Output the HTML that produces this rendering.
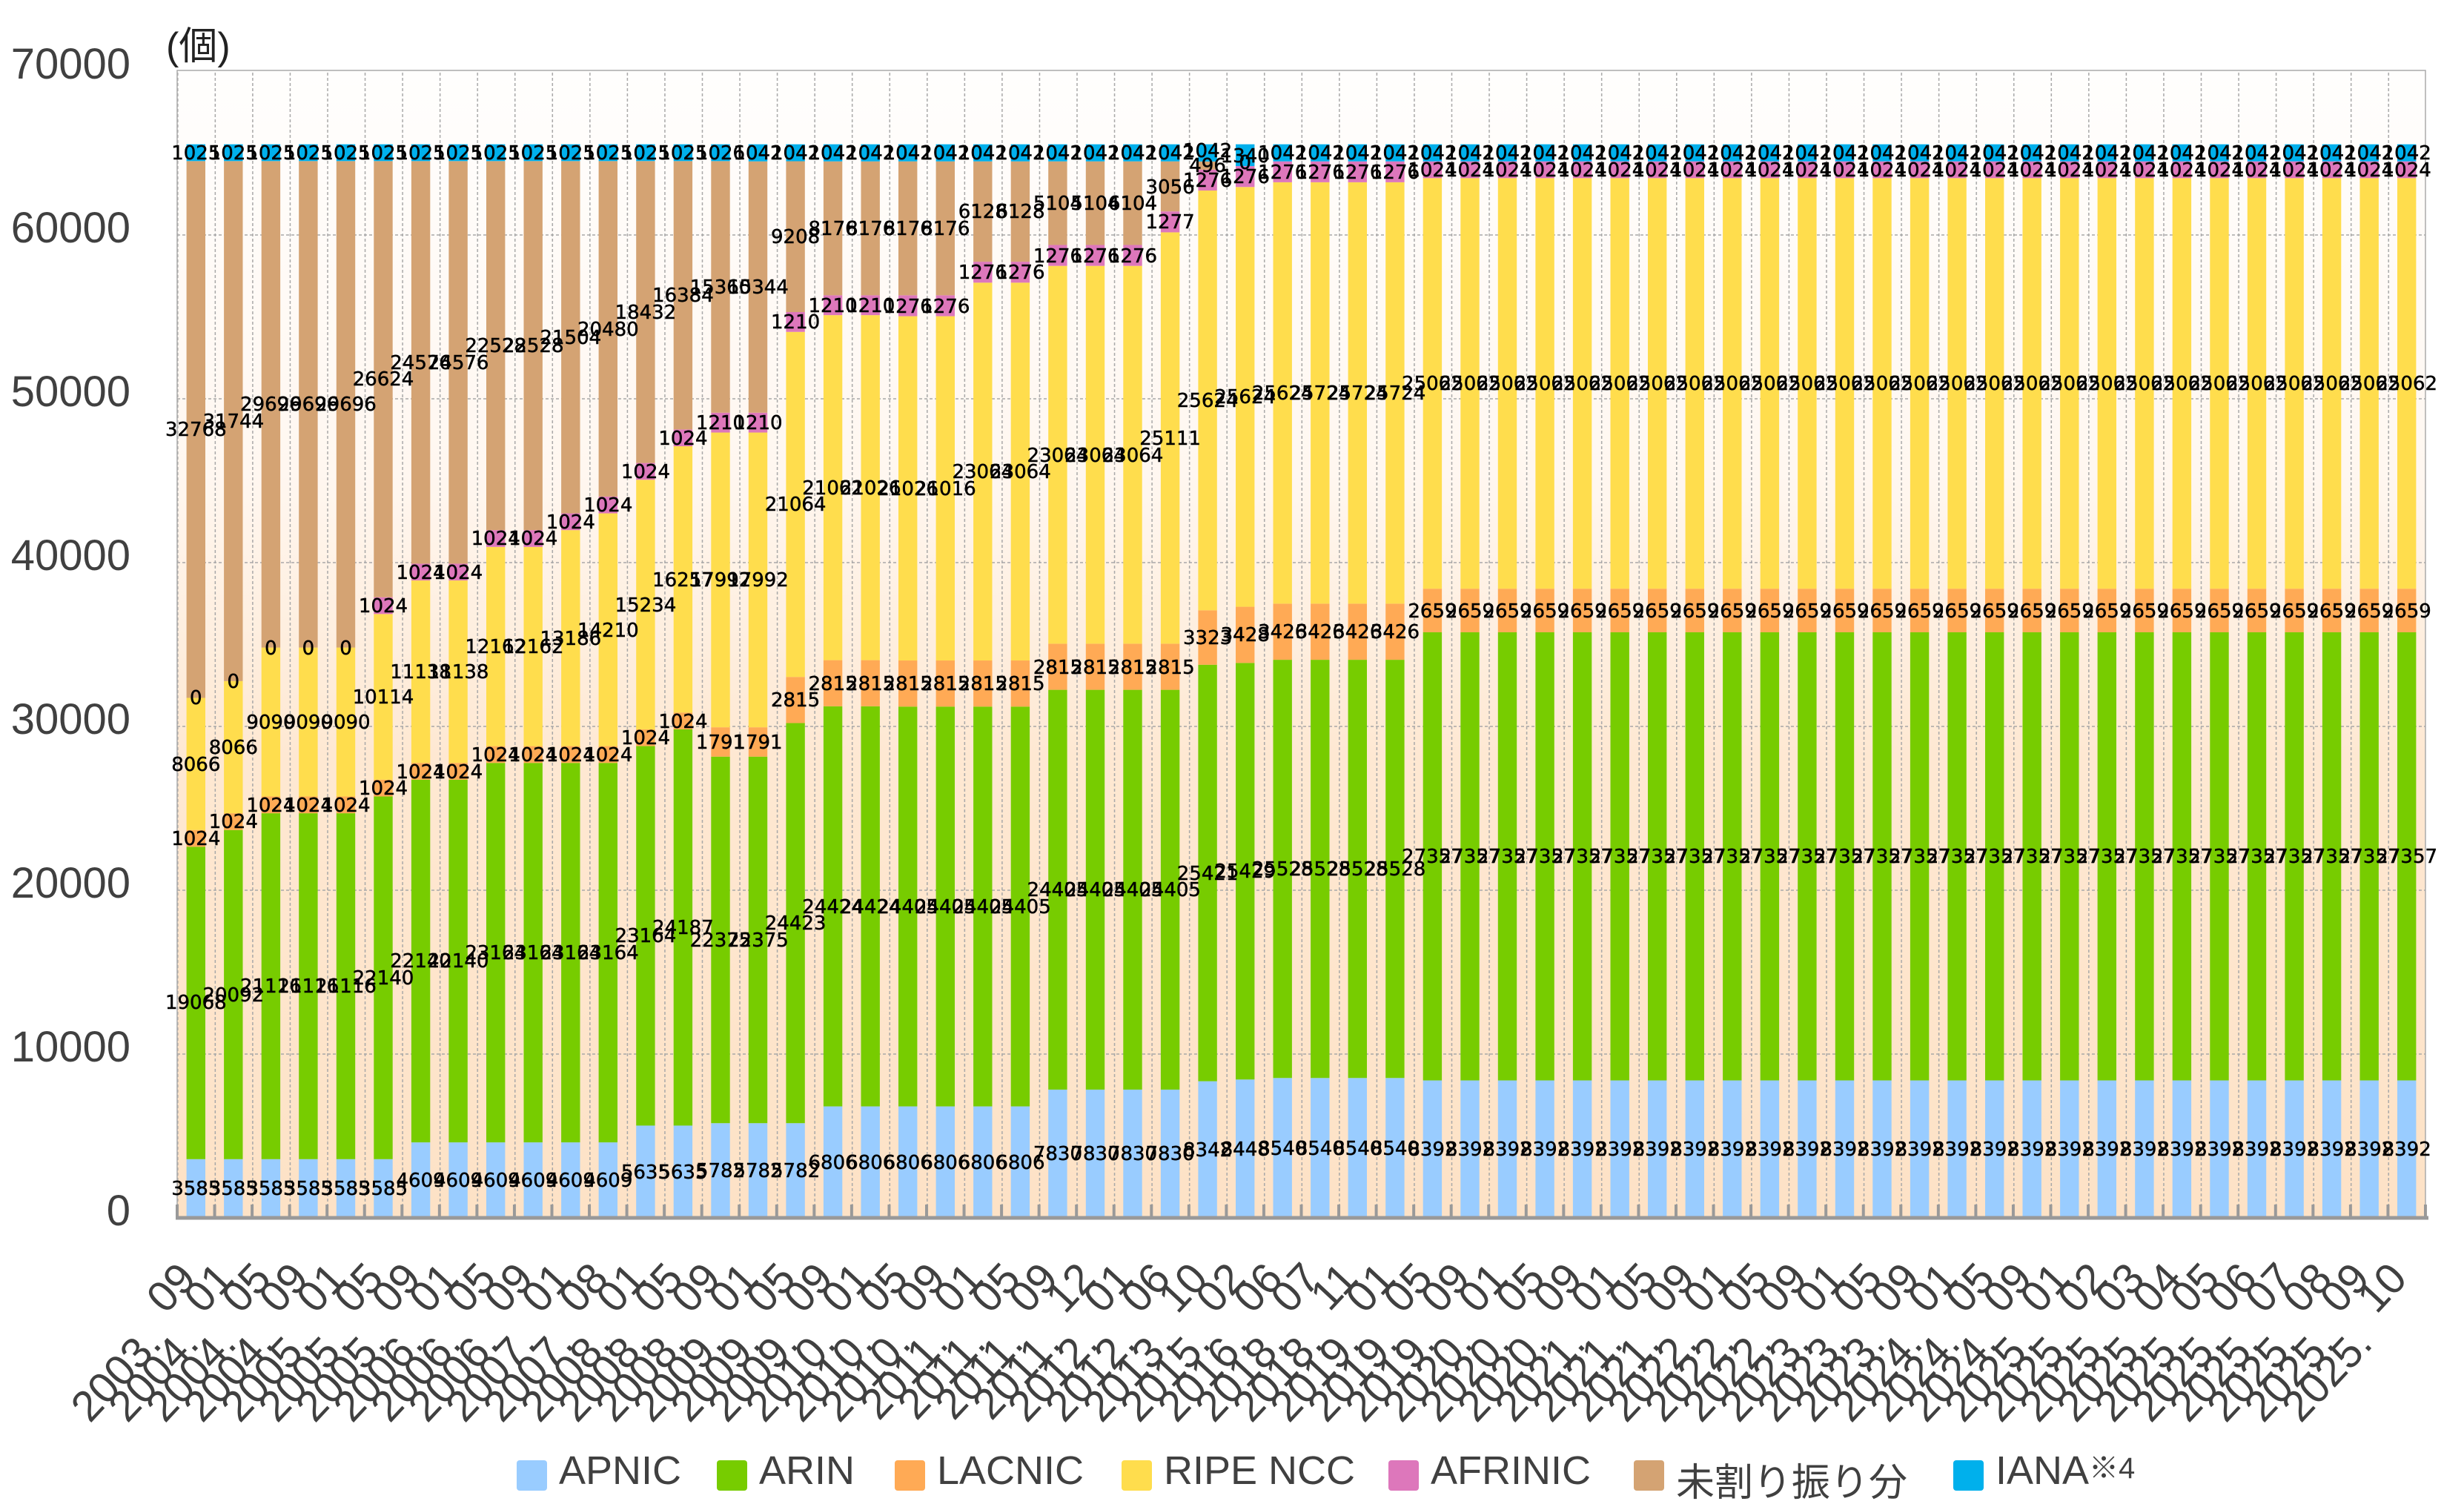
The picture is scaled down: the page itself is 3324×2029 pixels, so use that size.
<!DOCTYPE html>
<html><head><meta charset="utf-8"><style>
html,body{margin:0;padding:0;background:#fff}
svg{display:block}
.a{fill:#99ccff}.b{fill:#77cc00}.c{fill:#ffaa55}.d{fill:#ffdd4d}.e{fill:#dd77bb}.f{fill:#d4a373}.g{fill:#00b0ec}
.t{font-family:"DejaVu Sans",sans-serif;font-size:26px;text-anchor:middle;fill:#000;stroke:#000;stroke-width:0.5px}
.x{font-family:"Liberation Sans",sans-serif;font-size:58px;text-anchor:end;fill:#404040}
.y{font-family:"Liberation Sans",sans-serif;font-size:58px;text-anchor:end;fill:#404040}
.lg{font-family:"Liberation Sans","Noto Sans CJK JP",sans-serif;font-size:54px;fill:#404040}
</style></head><body>
<svg width="3324" height="2029" viewBox="0 0 3324 2029" xmlns="http://www.w3.org/2000/svg">
<defs>
<linearGradient id="bg" x1="0" y1="0" x2="0" y2="1">
<stop offset="0" stop-color="#fffefd"/><stop offset="0.35" stop-color="#fff7f0"/><stop offset="0.6" stop-color="#fee8d2"/><stop offset="1" stop-color="#fde2c6"/>
</linearGradient>
<pattern id="vg" x="239" y="0" width="50.55" height="2029" patternUnits="userSpaceOnUse">
<line x1="0.8" y1="0" x2="0.8" y2="2029" stroke="#a8a8a8" stroke-width="1.5" stroke-dasharray="4 3"/>
</pattern>
<pattern id="tk" x="237" y="0" width="50.55" height="2029" patternUnits="userSpaceOnUse">
<rect x="0" y="0" width="4" height="2029" fill="#999"/>
</pattern>
</defs>
<rect x="239" y="96" width="3033" height="1547" fill="url(#bg)"/>
<rect x="239" y="96" width="3033" height="1547" fill="url(#vg)"/>
<g stroke="#a8a8a8" stroke-width="1.5" stroke-dasharray="4 3">
<line x1="239" y1="1422" x2="3272" y2="1422"/><line x1="239" y1="1201" x2="3272" y2="1201"/><line x1="239" y1="980" x2="3272" y2="980"/><line x1="239" y1="759" x2="3272" y2="759"/><line x1="239" y1="538" x2="3272" y2="538"/><line x1="239" y1="317" x2="3272" y2="317"/>
</g>
<rect x="239" y="95" width="3033" height="1548" fill="none" stroke="#aaa" stroke-width="1.5"/>

<g transform="translate(264.3,1643) scale(1,-.0221)"><rect class="a" x="-12.7" width="25.4" y="0" height="3585"/><rect class="b" x="-12.7" width="25.4" y="3585" height="19068"/><rect class="c" x="-12.7" width="25.4" y="22653" height="1024"/><rect class="d" x="-12.7" width="25.4" y="23677" height="8066"/><rect class="f" x="-12.7" width="25.4" y="31743" height="32768"/><rect class="g" x="-12.7" width="25.4" y="64511" height="1025"/></g>
<g transform="translate(314.8,1643) scale(1,-.0221)"><rect class="a" x="-12.7" width="25.4" y="0" height="3585"/><rect class="b" x="-12.7" width="25.4" y="3585" height="20092"/><rect class="c" x="-12.7" width="25.4" y="23677" height="1024"/><rect class="d" x="-12.7" width="25.4" y="24701" height="8066"/><rect class="f" x="-12.7" width="25.4" y="32767" height="31744"/><rect class="g" x="-12.7" width="25.4" y="64511" height="1025"/></g>
<g transform="translate(365.4,1643) scale(1,-.0221)"><rect class="a" x="-12.7" width="25.4" y="0" height="3585"/><rect class="b" x="-12.7" width="25.4" y="3585" height="21116"/><rect class="c" x="-12.7" width="25.4" y="24701" height="1024"/><rect class="d" x="-12.7" width="25.4" y="25725" height="9090"/><rect class="f" x="-12.7" width="25.4" y="34815" height="29696"/><rect class="g" x="-12.7" width="25.4" y="64511" height="1025"/></g>
<g transform="translate(415.9,1643) scale(1,-.0221)"><rect class="a" x="-12.7" width="25.4" y="0" height="3585"/><rect class="b" x="-12.7" width="25.4" y="3585" height="21116"/><rect class="c" x="-12.7" width="25.4" y="24701" height="1024"/><rect class="d" x="-12.7" width="25.4" y="25725" height="9090"/><rect class="f" x="-12.7" width="25.4" y="34815" height="29696"/><rect class="g" x="-12.7" width="25.4" y="64511" height="1025"/></g>
<g transform="translate(466.5,1643) scale(1,-.0221)"><rect class="a" x="-12.7" width="25.4" y="0" height="3585"/><rect class="b" x="-12.7" width="25.4" y="3585" height="21116"/><rect class="c" x="-12.7" width="25.4" y="24701" height="1024"/><rect class="d" x="-12.7" width="25.4" y="25725" height="9090"/><rect class="f" x="-12.7" width="25.4" y="34815" height="29696"/><rect class="g" x="-12.7" width="25.4" y="64511" height="1025"/></g>
<g transform="translate(517.0,1643) scale(1,-.0221)"><rect class="a" x="-12.7" width="25.4" y="0" height="3585"/><rect class="b" x="-12.7" width="25.4" y="3585" height="22140"/><rect class="c" x="-12.7" width="25.4" y="25725" height="1024"/><rect class="d" x="-12.7" width="25.4" y="26749" height="10114"/><rect class="e" x="-12.7" width="25.4" y="36863" height="1024"/><rect class="f" x="-12.7" width="25.4" y="37887" height="26624"/><rect class="g" x="-12.7" width="25.4" y="64511" height="1025"/></g>
<g transform="translate(567.6,1643) scale(1,-.0221)"><rect class="a" x="-12.7" width="25.4" y="0" height="4609"/><rect class="b" x="-12.7" width="25.4" y="4609" height="22140"/><rect class="c" x="-12.7" width="25.4" y="26749" height="1024"/><rect class="d" x="-12.7" width="25.4" y="27773" height="11138"/><rect class="e" x="-12.7" width="25.4" y="38911" height="1024"/><rect class="f" x="-12.7" width="25.4" y="39935" height="24576"/><rect class="g" x="-12.7" width="25.4" y="64511" height="1025"/></g>
<g transform="translate(618.1,1643) scale(1,-.0221)"><rect class="a" x="-12.7" width="25.4" y="0" height="4609"/><rect class="b" x="-12.7" width="25.4" y="4609" height="22140"/><rect class="c" x="-12.7" width="25.4" y="26749" height="1024"/><rect class="d" x="-12.7" width="25.4" y="27773" height="11138"/><rect class="e" x="-12.7" width="25.4" y="38911" height="1024"/><rect class="f" x="-12.7" width="25.4" y="39935" height="24576"/><rect class="g" x="-12.7" width="25.4" y="64511" height="1025"/></g>
<g transform="translate(668.7,1643) scale(1,-.0221)"><rect class="a" x="-12.7" width="25.4" y="0" height="4609"/><rect class="b" x="-12.7" width="25.4" y="4609" height="23164"/><rect class="c" x="-12.7" width="25.4" y="27773" height="1024"/><rect class="d" x="-12.7" width="25.4" y="28797" height="12162"/><rect class="e" x="-12.7" width="25.4" y="40959" height="1024"/><rect class="f" x="-12.7" width="25.4" y="41983" height="22528"/><rect class="g" x="-12.7" width="25.4" y="64511" height="1025"/></g>
<g transform="translate(719.2,1643) scale(1,-.0221)"><rect class="a" x="-12.7" width="25.4" y="0" height="4609"/><rect class="b" x="-12.7" width="25.4" y="4609" height="23164"/><rect class="c" x="-12.7" width="25.4" y="27773" height="1024"/><rect class="d" x="-12.7" width="25.4" y="28797" height="12162"/><rect class="e" x="-12.7" width="25.4" y="40959" height="1024"/><rect class="f" x="-12.7" width="25.4" y="41983" height="22528"/><rect class="g" x="-12.7" width="25.4" y="64511" height="1025"/></g>
<g transform="translate(769.8,1643) scale(1,-.0221)"><rect class="a" x="-12.7" width="25.4" y="0" height="4609"/><rect class="b" x="-12.7" width="25.4" y="4609" height="23164"/><rect class="c" x="-12.7" width="25.4" y="27773" height="1024"/><rect class="d" x="-12.7" width="25.4" y="28797" height="13186"/><rect class="e" x="-12.7" width="25.4" y="41983" height="1024"/><rect class="f" x="-12.7" width="25.4" y="43007" height="21504"/><rect class="g" x="-12.7" width="25.4" y="64511" height="1025"/></g>
<g transform="translate(820.3,1643) scale(1,-.0221)"><rect class="a" x="-12.7" width="25.4" y="0" height="4609"/><rect class="b" x="-12.7" width="25.4" y="4609" height="23164"/><rect class="c" x="-12.7" width="25.4" y="27773" height="1024"/><rect class="d" x="-12.7" width="25.4" y="28797" height="14210"/><rect class="e" x="-12.7" width="25.4" y="43007" height="1024"/><rect class="f" x="-12.7" width="25.4" y="44031" height="20480"/><rect class="g" x="-12.7" width="25.4" y="64511" height="1025"/></g>
<g transform="translate(870.9,1643) scale(1,-.0221)"><rect class="a" x="-12.7" width="25.4" y="0" height="5635"/><rect class="b" x="-12.7" width="25.4" y="5635" height="23164"/><rect class="c" x="-12.7" width="25.4" y="28799" height="1024"/><rect class="d" x="-12.7" width="25.4" y="29823" height="15234"/><rect class="e" x="-12.7" width="25.4" y="45057" height="1024"/><rect class="f" x="-12.7" width="25.4" y="46081" height="18432"/><rect class="g" x="-12.7" width="25.4" y="64513" height="1023"/></g>
<g transform="translate(921.4,1643) scale(1,-.0221)"><rect class="a" x="-12.7" width="25.4" y="0" height="5635"/><rect class="b" x="-12.7" width="25.4" y="5635" height="24187"/><rect class="c" x="-12.7" width="25.4" y="29822" height="1024"/><rect class="d" x="-12.7" width="25.4" y="30846" height="16257"/><rect class="e" x="-12.7" width="25.4" y="47103" height="1024"/><rect class="f" x="-12.7" width="25.4" y="48127" height="16384"/><rect class="g" x="-12.7" width="25.4" y="64511" height="1025"/></g>
<g transform="translate(972.0,1643) scale(1,-.0221)"><rect class="a" x="-12.7" width="25.4" y="0" height="5782"/><rect class="b" x="-12.7" width="25.4" y="5782" height="22375"/><rect class="c" x="-12.7" width="25.4" y="28157" height="1791"/><rect class="d" x="-12.7" width="25.4" y="29948" height="17992"/><rect class="e" x="-12.7" width="25.4" y="47940" height="1210"/><rect class="f" x="-12.7" width="25.4" y="49150" height="15360"/><rect class="g" x="-12.7" width="25.4" y="64510" height="1026"/></g>
<g transform="translate(1022.5,1643) scale(1,-.0221)"><rect class="a" x="-12.7" width="25.4" y="0" height="5782"/><rect class="b" x="-12.7" width="25.4" y="5782" height="22375"/><rect class="c" x="-12.7" width="25.4" y="28157" height="1791"/><rect class="d" x="-12.7" width="25.4" y="29948" height="17992"/><rect class="e" x="-12.7" width="25.4" y="47940" height="1210"/><rect class="f" x="-12.7" width="25.4" y="49150" height="15344"/><rect class="g" x="-12.7" width="25.4" y="64494" height="1042"/></g>
<g transform="translate(1073.1,1643) scale(1,-.0221)"><rect class="a" x="-12.7" width="25.4" y="0" height="5782"/><rect class="b" x="-12.7" width="25.4" y="5782" height="24423"/><rect class="c" x="-12.7" width="25.4" y="30205" height="2815"/><rect class="d" x="-12.7" width="25.4" y="33020" height="21064"/><rect class="e" x="-12.7" width="25.4" y="54084" height="1210"/><rect class="f" x="-12.7" width="25.4" y="55294" height="9208"/><rect class="g" x="-12.7" width="25.4" y="64502" height="1034"/></g>
<g transform="translate(1123.6,1643) scale(1,-.0221)"><rect class="a" x="-12.7" width="25.4" y="0" height="6806"/><rect class="b" x="-12.7" width="25.4" y="6806" height="24424"/><rect class="c" x="-12.7" width="25.4" y="31230" height="2815"/><rect class="d" x="-12.7" width="25.4" y="34045" height="21062"/><rect class="e" x="-12.7" width="25.4" y="55107" height="1210"/><rect class="f" x="-12.7" width="25.4" y="56317" height="8176"/><rect class="g" x="-12.7" width="25.4" y="64493" height="1043"/></g>
<g transform="translate(1174.2,1643) scale(1,-.0221)"><rect class="a" x="-12.7" width="25.4" y="0" height="6806"/><rect class="b" x="-12.7" width="25.4" y="6806" height="24424"/><rect class="c" x="-12.7" width="25.4" y="31230" height="2815"/><rect class="d" x="-12.7" width="25.4" y="34045" height="21062"/><rect class="e" x="-12.7" width="25.4" y="55107" height="1210"/><rect class="f" x="-12.7" width="25.4" y="56317" height="8176"/><rect class="g" x="-12.7" width="25.4" y="64493" height="1043"/></g>
<g transform="translate(1224.7,1643) scale(1,-.0221)"><rect class="a" x="-12.7" width="25.4" y="0" height="6806"/><rect class="b" x="-12.7" width="25.4" y="6806" height="24405"/><rect class="c" x="-12.7" width="25.4" y="31211" height="2815"/><rect class="d" x="-12.7" width="25.4" y="34026" height="21016"/><rect class="e" x="-12.7" width="25.4" y="55042" height="1276"/><rect class="f" x="-12.7" width="25.4" y="56318" height="8176"/><rect class="g" x="-12.7" width="25.4" y="64494" height="1042"/></g>
<g transform="translate(1275.3,1643) scale(1,-.0221)"><rect class="a" x="-12.7" width="25.4" y="0" height="6806"/><rect class="b" x="-12.7" width="25.4" y="6806" height="24405"/><rect class="c" x="-12.7" width="25.4" y="31211" height="2815"/><rect class="d" x="-12.7" width="25.4" y="34026" height="21016"/><rect class="e" x="-12.7" width="25.4" y="55042" height="1276"/><rect class="f" x="-12.7" width="25.4" y="56318" height="8176"/><rect class="g" x="-12.7" width="25.4" y="64494" height="1042"/></g>
<g transform="translate(1325.8,1643) scale(1,-.0221)"><rect class="a" x="-12.7" width="25.4" y="0" height="6806"/><rect class="b" x="-12.7" width="25.4" y="6806" height="24405"/><rect class="c" x="-12.7" width="25.4" y="31211" height="2815"/><rect class="d" x="-12.7" width="25.4" y="34026" height="23064"/><rect class="e" x="-12.7" width="25.4" y="57090" height="1276"/><rect class="f" x="-12.7" width="25.4" y="58366" height="6128"/><rect class="g" x="-12.7" width="25.4" y="64494" height="1042"/></g>
<g transform="translate(1376.4,1643) scale(1,-.0221)"><rect class="a" x="-12.7" width="25.4" y="0" height="6806"/><rect class="b" x="-12.7" width="25.4" y="6806" height="24405"/><rect class="c" x="-12.7" width="25.4" y="31211" height="2815"/><rect class="d" x="-12.7" width="25.4" y="34026" height="23064"/><rect class="e" x="-12.7" width="25.4" y="57090" height="1276"/><rect class="f" x="-12.7" width="25.4" y="58366" height="6128"/><rect class="g" x="-12.7" width="25.4" y="64494" height="1042"/></g>
<g transform="translate(1426.9,1643) scale(1,-.0221)"><rect class="a" x="-12.7" width="25.4" y="0" height="7830"/><rect class="b" x="-12.7" width="25.4" y="7830" height="24405"/><rect class="c" x="-12.7" width="25.4" y="32235" height="2815"/><rect class="d" x="-12.7" width="25.4" y="35050" height="23064"/><rect class="e" x="-12.7" width="25.4" y="58114" height="1276"/><rect class="f" x="-12.7" width="25.4" y="59390" height="5104"/><rect class="g" x="-12.7" width="25.4" y="64494" height="1042"/></g>
<g transform="translate(1477.5,1643) scale(1,-.0221)"><rect class="a" x="-12.7" width="25.4" y="0" height="7830"/><rect class="b" x="-12.7" width="25.4" y="7830" height="24405"/><rect class="c" x="-12.7" width="25.4" y="32235" height="2815"/><rect class="d" x="-12.7" width="25.4" y="35050" height="23064"/><rect class="e" x="-12.7" width="25.4" y="58114" height="1276"/><rect class="f" x="-12.7" width="25.4" y="59390" height="5104"/><rect class="g" x="-12.7" width="25.4" y="64494" height="1042"/></g>
<g transform="translate(1528.0,1643) scale(1,-.0221)"><rect class="a" x="-12.7" width="25.4" y="0" height="7830"/><rect class="b" x="-12.7" width="25.4" y="7830" height="24405"/><rect class="c" x="-12.7" width="25.4" y="32235" height="2815"/><rect class="d" x="-12.7" width="25.4" y="35050" height="23064"/><rect class="e" x="-12.7" width="25.4" y="58114" height="1276"/><rect class="f" x="-12.7" width="25.4" y="59390" height="5104"/><rect class="g" x="-12.7" width="25.4" y="64494" height="1042"/></g>
<g transform="translate(1578.6,1643) scale(1,-.0221)"><rect class="a" x="-12.7" width="25.4" y="0" height="7830"/><rect class="b" x="-12.7" width="25.4" y="7830" height="24405"/><rect class="c" x="-12.7" width="25.4" y="32235" height="2815"/><rect class="d" x="-12.7" width="25.4" y="35050" height="25111"/><rect class="e" x="-12.7" width="25.4" y="60161" height="1277"/><rect class="f" x="-12.7" width="25.4" y="61438" height="3056"/><rect class="g" x="-12.7" width="25.4" y="64494" height="1042"/></g>
<g transform="translate(1629.1,1643) scale(1,-.0221)"><rect class="a" x="-12.7" width="25.4" y="0" height="8342"/><rect class="b" x="-12.7" width="25.4" y="8342" height="25424"/><rect class="c" x="-12.7" width="25.4" y="33766" height="3323"/><rect class="d" x="-12.7" width="25.4" y="37089" height="25624"/><rect class="e" x="-12.7" width="25.4" y="62713" height="1276"/><rect class="f" x="-12.7" width="25.4" y="63989" height="496"/><rect class="g" x="-12.7" width="25.4" y="64485" height="1051"/></g>
<g transform="translate(1679.7,1643) scale(1,-.0221)"><rect class="a" x="-12.7" width="25.4" y="0" height="8448"/><rect class="b" x="-12.7" width="25.4" y="8448" height="25429"/><rect class="c" x="-12.7" width="25.4" y="33877" height="3428"/><rect class="d" x="-12.7" width="25.4" y="37305" height="25624"/><rect class="e" x="-12.7" width="25.4" y="62929" height="1276"/><rect class="g" x="-12.7" width="25.4" y="64205" height="1331"/></g>
<g transform="translate(1730.2,1643) scale(1,-.0221)"><rect class="a" x="-12.7" width="25.4" y="0" height="8540"/><rect class="b" x="-12.7" width="25.4" y="8540" height="25528"/><rect class="c" x="-12.7" width="25.4" y="34068" height="3426"/><rect class="d" x="-12.7" width="25.4" y="37494" height="25724"/><rect class="e" x="-12.7" width="25.4" y="63218" height="1276"/><rect class="g" x="-12.7" width="25.4" y="64494" height="1042"/></g>
<g transform="translate(1780.8,1643) scale(1,-.0221)"><rect class="a" x="-12.7" width="25.4" y="0" height="8540"/><rect class="b" x="-12.7" width="25.4" y="8540" height="25528"/><rect class="c" x="-12.7" width="25.4" y="34068" height="3426"/><rect class="d" x="-12.7" width="25.4" y="37494" height="25724"/><rect class="e" x="-12.7" width="25.4" y="63218" height="1276"/><rect class="g" x="-12.7" width="25.4" y="64494" height="1042"/></g>
<g transform="translate(1831.3,1643) scale(1,-.0221)"><rect class="a" x="-12.7" width="25.4" y="0" height="8540"/><rect class="b" x="-12.7" width="25.4" y="8540" height="25528"/><rect class="c" x="-12.7" width="25.4" y="34068" height="3426"/><rect class="d" x="-12.7" width="25.4" y="37494" height="25724"/><rect class="e" x="-12.7" width="25.4" y="63218" height="1276"/><rect class="g" x="-12.7" width="25.4" y="64494" height="1042"/></g>
<g transform="translate(1881.9,1643) scale(1,-.0221)"><rect class="a" x="-12.7" width="25.4" y="0" height="8540"/><rect class="b" x="-12.7" width="25.4" y="8540" height="25528"/><rect class="c" x="-12.7" width="25.4" y="34068" height="3426"/><rect class="d" x="-12.7" width="25.4" y="37494" height="25724"/><rect class="e" x="-12.7" width="25.4" y="63218" height="1276"/><rect class="g" x="-12.7" width="25.4" y="64494" height="1042"/></g>
<g transform="translate(1932.4,1643) scale(1,-.0221)"><rect class="a" x="-12.7" width="25.4" y="0" height="8392"/><rect class="b" x="-12.7" width="25.4" y="8392" height="27357"/><rect class="c" x="-12.7" width="25.4" y="35749" height="2659"/><rect class="d" x="-12.7" width="25.4" y="38408" height="25062"/><rect class="e" x="-12.7" width="25.4" y="63470" height="1024"/><rect class="g" x="-12.7" width="25.4" y="64494" height="1042"/></g>
<g transform="translate(1983.0,1643) scale(1,-.0221)"><rect class="a" x="-12.7" width="25.4" y="0" height="8392"/><rect class="b" x="-12.7" width="25.4" y="8392" height="27357"/><rect class="c" x="-12.7" width="25.4" y="35749" height="2659"/><rect class="d" x="-12.7" width="25.4" y="38408" height="25062"/><rect class="e" x="-12.7" width="25.4" y="63470" height="1024"/><rect class="g" x="-12.7" width="25.4" y="64494" height="1042"/></g>
<g transform="translate(2033.5,1643) scale(1,-.0221)"><rect class="a" x="-12.7" width="25.4" y="0" height="8392"/><rect class="b" x="-12.7" width="25.4" y="8392" height="27357"/><rect class="c" x="-12.7" width="25.4" y="35749" height="2659"/><rect class="d" x="-12.7" width="25.4" y="38408" height="25062"/><rect class="e" x="-12.7" width="25.4" y="63470" height="1024"/><rect class="g" x="-12.7" width="25.4" y="64494" height="1042"/></g>
<g transform="translate(2084.1,1643) scale(1,-.0221)"><rect class="a" x="-12.7" width="25.4" y="0" height="8392"/><rect class="b" x="-12.7" width="25.4" y="8392" height="27357"/><rect class="c" x="-12.7" width="25.4" y="35749" height="2659"/><rect class="d" x="-12.7" width="25.4" y="38408" height="25062"/><rect class="e" x="-12.7" width="25.4" y="63470" height="1024"/><rect class="g" x="-12.7" width="25.4" y="64494" height="1042"/></g>
<g transform="translate(2134.6,1643) scale(1,-.0221)"><rect class="a" x="-12.7" width="25.4" y="0" height="8392"/><rect class="b" x="-12.7" width="25.4" y="8392" height="27357"/><rect class="c" x="-12.7" width="25.4" y="35749" height="2659"/><rect class="d" x="-12.7" width="25.4" y="38408" height="25062"/><rect class="e" x="-12.7" width="25.4" y="63470" height="1024"/><rect class="g" x="-12.7" width="25.4" y="64494" height="1042"/></g>
<g transform="translate(2185.2,1643) scale(1,-.0221)"><rect class="a" x="-12.7" width="25.4" y="0" height="8392"/><rect class="b" x="-12.7" width="25.4" y="8392" height="27357"/><rect class="c" x="-12.7" width="25.4" y="35749" height="2659"/><rect class="d" x="-12.7" width="25.4" y="38408" height="25062"/><rect class="e" x="-12.7" width="25.4" y="63470" height="1024"/><rect class="g" x="-12.7" width="25.4" y="64494" height="1042"/></g>
<g transform="translate(2235.7,1643) scale(1,-.0221)"><rect class="a" x="-12.7" width="25.4" y="0" height="8392"/><rect class="b" x="-12.7" width="25.4" y="8392" height="27357"/><rect class="c" x="-12.7" width="25.4" y="35749" height="2659"/><rect class="d" x="-12.7" width="25.4" y="38408" height="25062"/><rect class="e" x="-12.7" width="25.4" y="63470" height="1024"/><rect class="g" x="-12.7" width="25.4" y="64494" height="1042"/></g>
<g transform="translate(2286.3,1643) scale(1,-.0221)"><rect class="a" x="-12.7" width="25.4" y="0" height="8392"/><rect class="b" x="-12.7" width="25.4" y="8392" height="27357"/><rect class="c" x="-12.7" width="25.4" y="35749" height="2659"/><rect class="d" x="-12.7" width="25.4" y="38408" height="25062"/><rect class="e" x="-12.7" width="25.4" y="63470" height="1024"/><rect class="g" x="-12.7" width="25.4" y="64494" height="1042"/></g>
<g transform="translate(2336.8,1643) scale(1,-.0221)"><rect class="a" x="-12.7" width="25.4" y="0" height="8392"/><rect class="b" x="-12.7" width="25.4" y="8392" height="27357"/><rect class="c" x="-12.7" width="25.4" y="35749" height="2659"/><rect class="d" x="-12.7" width="25.4" y="38408" height="25062"/><rect class="e" x="-12.7" width="25.4" y="63470" height="1024"/><rect class="g" x="-12.7" width="25.4" y="64494" height="1042"/></g>
<g transform="translate(2387.4,1643) scale(1,-.0221)"><rect class="a" x="-12.7" width="25.4" y="0" height="8392"/><rect class="b" x="-12.7" width="25.4" y="8392" height="27357"/><rect class="c" x="-12.7" width="25.4" y="35749" height="2659"/><rect class="d" x="-12.7" width="25.4" y="38408" height="25062"/><rect class="e" x="-12.7" width="25.4" y="63470" height="1024"/><rect class="g" x="-12.7" width="25.4" y="64494" height="1042"/></g>
<g transform="translate(2437.9,1643) scale(1,-.0221)"><rect class="a" x="-12.7" width="25.4" y="0" height="8392"/><rect class="b" x="-12.7" width="25.4" y="8392" height="27357"/><rect class="c" x="-12.7" width="25.4" y="35749" height="2659"/><rect class="d" x="-12.7" width="25.4" y="38408" height="25062"/><rect class="e" x="-12.7" width="25.4" y="63470" height="1024"/><rect class="g" x="-12.7" width="25.4" y="64494" height="1042"/></g>
<g transform="translate(2488.5,1643) scale(1,-.0221)"><rect class="a" x="-12.7" width="25.4" y="0" height="8392"/><rect class="b" x="-12.7" width="25.4" y="8392" height="27357"/><rect class="c" x="-12.7" width="25.4" y="35749" height="2659"/><rect class="d" x="-12.7" width="25.4" y="38408" height="25062"/><rect class="e" x="-12.7" width="25.4" y="63470" height="1024"/><rect class="g" x="-12.7" width="25.4" y="64494" height="1042"/></g>
<g transform="translate(2539.0,1643) scale(1,-.0221)"><rect class="a" x="-12.7" width="25.4" y="0" height="8392"/><rect class="b" x="-12.7" width="25.4" y="8392" height="27357"/><rect class="c" x="-12.7" width="25.4" y="35749" height="2659"/><rect class="d" x="-12.7" width="25.4" y="38408" height="25062"/><rect class="e" x="-12.7" width="25.4" y="63470" height="1024"/><rect class="g" x="-12.7" width="25.4" y="64494" height="1042"/></g>
<g transform="translate(2589.6,1643) scale(1,-.0221)"><rect class="a" x="-12.7" width="25.4" y="0" height="8392"/><rect class="b" x="-12.7" width="25.4" y="8392" height="27357"/><rect class="c" x="-12.7" width="25.4" y="35749" height="2659"/><rect class="d" x="-12.7" width="25.4" y="38408" height="25062"/><rect class="e" x="-12.7" width="25.4" y="63470" height="1024"/><rect class="g" x="-12.7" width="25.4" y="64494" height="1042"/></g>
<g transform="translate(2640.1,1643) scale(1,-.0221)"><rect class="a" x="-12.7" width="25.4" y="0" height="8392"/><rect class="b" x="-12.7" width="25.4" y="8392" height="27357"/><rect class="c" x="-12.7" width="25.4" y="35749" height="2659"/><rect class="d" x="-12.7" width="25.4" y="38408" height="25062"/><rect class="e" x="-12.7" width="25.4" y="63470" height="1024"/><rect class="g" x="-12.7" width="25.4" y="64494" height="1042"/></g>
<g transform="translate(2690.7,1643) scale(1,-.0221)"><rect class="a" x="-12.7" width="25.4" y="0" height="8392"/><rect class="b" x="-12.7" width="25.4" y="8392" height="27357"/><rect class="c" x="-12.7" width="25.4" y="35749" height="2659"/><rect class="d" x="-12.7" width="25.4" y="38408" height="25062"/><rect class="e" x="-12.7" width="25.4" y="63470" height="1024"/><rect class="g" x="-12.7" width="25.4" y="64494" height="1042"/></g>
<g transform="translate(2741.2,1643) scale(1,-.0221)"><rect class="a" x="-12.7" width="25.4" y="0" height="8392"/><rect class="b" x="-12.7" width="25.4" y="8392" height="27357"/><rect class="c" x="-12.7" width="25.4" y="35749" height="2659"/><rect class="d" x="-12.7" width="25.4" y="38408" height="25062"/><rect class="e" x="-12.7" width="25.4" y="63470" height="1024"/><rect class="g" x="-12.7" width="25.4" y="64494" height="1042"/></g>
<g transform="translate(2791.8,1643) scale(1,-.0221)"><rect class="a" x="-12.7" width="25.4" y="0" height="8392"/><rect class="b" x="-12.7" width="25.4" y="8392" height="27357"/><rect class="c" x="-12.7" width="25.4" y="35749" height="2659"/><rect class="d" x="-12.7" width="25.4" y="38408" height="25062"/><rect class="e" x="-12.7" width="25.4" y="63470" height="1024"/><rect class="g" x="-12.7" width="25.4" y="64494" height="1042"/></g>
<g transform="translate(2842.3,1643) scale(1,-.0221)"><rect class="a" x="-12.7" width="25.4" y="0" height="8392"/><rect class="b" x="-12.7" width="25.4" y="8392" height="27357"/><rect class="c" x="-12.7" width="25.4" y="35749" height="2659"/><rect class="d" x="-12.7" width="25.4" y="38408" height="25062"/><rect class="e" x="-12.7" width="25.4" y="63470" height="1024"/><rect class="g" x="-12.7" width="25.4" y="64494" height="1042"/></g>
<g transform="translate(2892.9,1643) scale(1,-.0221)"><rect class="a" x="-12.7" width="25.4" y="0" height="8392"/><rect class="b" x="-12.7" width="25.4" y="8392" height="27357"/><rect class="c" x="-12.7" width="25.4" y="35749" height="2659"/><rect class="d" x="-12.7" width="25.4" y="38408" height="25062"/><rect class="e" x="-12.7" width="25.4" y="63470" height="1024"/><rect class="g" x="-12.7" width="25.4" y="64494" height="1042"/></g>
<g transform="translate(2943.4,1643) scale(1,-.0221)"><rect class="a" x="-12.7" width="25.4" y="0" height="8392"/><rect class="b" x="-12.7" width="25.4" y="8392" height="27357"/><rect class="c" x="-12.7" width="25.4" y="35749" height="2659"/><rect class="d" x="-12.7" width="25.4" y="38408" height="25062"/><rect class="e" x="-12.7" width="25.4" y="63470" height="1024"/><rect class="g" x="-12.7" width="25.4" y="64494" height="1042"/></g>
<g transform="translate(2994.0,1643) scale(1,-.0221)"><rect class="a" x="-12.7" width="25.4" y="0" height="8392"/><rect class="b" x="-12.7" width="25.4" y="8392" height="27357"/><rect class="c" x="-12.7" width="25.4" y="35749" height="2659"/><rect class="d" x="-12.7" width="25.4" y="38408" height="25062"/><rect class="e" x="-12.7" width="25.4" y="63470" height="1024"/><rect class="g" x="-12.7" width="25.4" y="64494" height="1042"/></g>
<g transform="translate(3044.5,1643) scale(1,-.0221)"><rect class="a" x="-12.7" width="25.4" y="0" height="8392"/><rect class="b" x="-12.7" width="25.4" y="8392" height="27357"/><rect class="c" x="-12.7" width="25.4" y="35749" height="2659"/><rect class="d" x="-12.7" width="25.4" y="38408" height="25062"/><rect class="e" x="-12.7" width="25.4" y="63470" height="1024"/><rect class="g" x="-12.7" width="25.4" y="64494" height="1042"/></g>
<g transform="translate(3095.1,1643) scale(1,-.0221)"><rect class="a" x="-12.7" width="25.4" y="0" height="8392"/><rect class="b" x="-12.7" width="25.4" y="8392" height="27357"/><rect class="c" x="-12.7" width="25.4" y="35749" height="2659"/><rect class="d" x="-12.7" width="25.4" y="38408" height="25062"/><rect class="e" x="-12.7" width="25.4" y="63470" height="1024"/><rect class="g" x="-12.7" width="25.4" y="64494" height="1042"/></g>
<g transform="translate(3145.6,1643) scale(1,-.0221)"><rect class="a" x="-12.7" width="25.4" y="0" height="8392"/><rect class="b" x="-12.7" width="25.4" y="8392" height="27357"/><rect class="c" x="-12.7" width="25.4" y="35749" height="2659"/><rect class="d" x="-12.7" width="25.4" y="38408" height="25062"/><rect class="e" x="-12.7" width="25.4" y="63470" height="1024"/><rect class="g" x="-12.7" width="25.4" y="64494" height="1042"/></g>
<g transform="translate(3196.2,1643) scale(1,-.0221)"><rect class="a" x="-12.7" width="25.4" y="0" height="8392"/><rect class="b" x="-12.7" width="25.4" y="8392" height="27357"/><rect class="c" x="-12.7" width="25.4" y="35749" height="2659"/><rect class="d" x="-12.7" width="25.4" y="38408" height="25062"/><rect class="e" x="-12.7" width="25.4" y="63470" height="1024"/><rect class="g" x="-12.7" width="25.4" y="64494" height="1042"/></g>
<g transform="translate(3246.7,1643) scale(1,-.0221)"><rect class="a" x="-12.7" width="25.4" y="0" height="8392"/><rect class="b" x="-12.7" width="25.4" y="8392" height="27357"/><rect class="c" x="-12.7" width="25.4" y="35749" height="2659"/><rect class="d" x="-12.7" width="25.4" y="38408" height="25062"/><rect class="e" x="-12.7" width="25.4" y="63470" height="1024"/><rect class="g" x="-12.7" width="25.4" y="64494" height="1042"/></g>

<rect x="237" y="1625" width="3039" height="18" fill="url(#tk)"/>
<line x1="237" y1="1643" x2="3276" y2="1643" stroke="#999" stroke-width="5"/>

<g class="t">
<text x="264.3" y="1612">3585</text><text x="264.3" y="1361">19068</text><text x="264.3" y="1140">1024</text><text x="264.3" y="1040">8066</text><text x="264.3" y="950">0</text><text x="264.3" y="588">32768</text><text x="264.3" y="215">1025</text>
<text x="314.8" y="1612">3585</text><text x="314.8" y="1351">20092</text><text x="314.8" y="1117">1024</text><text x="314.8" y="1017">8066</text><text x="314.8" y="928">0</text><text x="314.8" y="577">31744</text><text x="314.8" y="215">1025</text>
<text x="365.4" y="1612">3585</text><text x="365.4" y="1339">21116</text><text x="365.4" y="1095">1024</text><text x="365.4" y="983">9090</text><text x="365.4" y="883">0</text><text x="365.4" y="554">29696</text><text x="365.4" y="215">1025</text>
<text x="415.9" y="1612">3585</text><text x="415.9" y="1339">21116</text><text x="415.9" y="1095">1024</text><text x="415.9" y="983">9090</text><text x="415.9" y="883">0</text><text x="415.9" y="554">29696</text><text x="415.9" y="215">1025</text>
<text x="466.5" y="1612">3585</text><text x="466.5" y="1339">21116</text><text x="466.5" y="1095">1024</text><text x="466.5" y="983">9090</text><text x="466.5" y="883">0</text><text x="466.5" y="554">29696</text><text x="466.5" y="215">1025</text>
<text x="517.0" y="1612">3585</text><text x="517.0" y="1328">22140</text><text x="517.0" y="1072">1024</text><text x="517.0" y="949">10114</text><text x="517.0" y="826">1024</text><text x="517.0" y="520">26624</text><text x="517.0" y="215">1025</text>
<text x="567.6" y="1601">4609</text><text x="567.6" y="1305">22140</text><text x="567.6" y="1050">1024</text><text x="567.6" y="915">11138</text><text x="567.6" y="781">1024</text><text x="567.6" y="498">24576</text><text x="567.6" y="215">1025</text>
<text x="618.1" y="1601">4609</text><text x="618.1" y="1305">22140</text><text x="618.1" y="1050">1024</text><text x="618.1" y="915">11138</text><text x="618.1" y="781">1024</text><text x="618.1" y="498">24576</text><text x="618.1" y="215">1025</text>
<text x="668.7" y="1601">4609</text><text x="668.7" y="1294">23164</text><text x="668.7" y="1027">1024</text><text x="668.7" y="881">12162</text><text x="668.7" y="735">1024</text><text x="668.7" y="475">22528</text><text x="668.7" y="215">1025</text>
<text x="719.2" y="1601">4609</text><text x="719.2" y="1294">23164</text><text x="719.2" y="1027">1024</text><text x="719.2" y="881">12162</text><text x="719.2" y="735">1024</text><text x="719.2" y="475">22528</text><text x="719.2" y="215">1025</text>
<text x="769.8" y="1601">4609</text><text x="769.8" y="1294">23164</text><text x="769.8" y="1027">1024</text><text x="769.8" y="870">13186</text><text x="769.8" y="713">1024</text><text x="769.8" y="464">21504</text><text x="769.8" y="215">1025</text>
<text x="820.3" y="1601">4609</text><text x="820.3" y="1294">23164</text><text x="820.3" y="1027">1024</text><text x="820.3" y="859">14210</text><text x="820.3" y="690">1024</text><text x="820.3" y="453">20480</text><text x="820.3" y="215">1025</text>
<text x="870.9" y="1590">5635</text><text x="870.9" y="1271">23164</text><text x="870.9" y="1004">1024</text><text x="870.9" y="825">15234</text><text x="870.9" y="645">1024</text><text x="870.9" y="430">18432</text><text x="870.9" y="215">1025</text>
<text x="921.4" y="1590">5635</text><text x="921.4" y="1260">24187</text><text x="921.4" y="982">1024</text><text x="921.4" y="791">16257</text><text x="921.4" y="600">1024</text><text x="921.4" y="407">16384</text><text x="921.4" y="215">1025</text>
<text x="972.0" y="1588">5782</text><text x="972.0" y="1277">22375</text><text x="972.0" y="1010">1791</text><text x="972.0" y="791">17992</text><text x="972.0" y="579">1210</text><text x="972.0" y="396">15360</text><text x="972.0" y="215">1026</text>
<text x="1022.5" y="1588">5782</text><text x="1022.5" y="1277">22375</text><text x="1022.5" y="1010">1791</text><text x="1022.5" y="791">17992</text><text x="1022.5" y="579">1210</text><text x="1022.5" y="396">15344</text><text x="1022.5" y="215">1042</text>
<text x="1073.1" y="1588">5782</text><text x="1073.1" y="1254">24423</text><text x="1073.1" y="953">2815</text><text x="1073.1" y="689">21064</text><text x="1073.1" y="443">1210</text><text x="1073.1" y="328">9208</text><text x="1073.1" y="215">1042</text>
<text x="1123.6" y="1577">6806</text><text x="1123.6" y="1232">24424</text><text x="1123.6" y="931">2815</text><text x="1123.6" y="667">21062</text><text x="1123.6" y="421">1210</text><text x="1123.6" y="317">8176</text><text x="1123.6" y="215">1042</text>
<text x="1174.2" y="1577">6806</text><text x="1174.2" y="1232">24424</text><text x="1174.2" y="931">2815</text><text x="1174.2" y="667">21026</text><text x="1174.2" y="421">1210</text><text x="1174.2" y="317">8176</text><text x="1174.2" y="215">1042</text>
<text x="1224.7" y="1577">6806</text><text x="1224.7" y="1232">24405</text><text x="1224.7" y="931">2815</text><text x="1224.7" y="668">21026</text><text x="1224.7" y="422">1276</text><text x="1224.7" y="317">8176</text><text x="1224.7" y="215">1042</text>
<text x="1275.3" y="1577">6806</text><text x="1275.3" y="1232">24405</text><text x="1275.3" y="931">2815</text><text x="1275.3" y="668">21016</text><text x="1275.3" y="422">1276</text><text x="1275.3" y="317">8176</text><text x="1275.3" y="215">1042</text>
<text x="1325.8" y="1577">6806</text><text x="1325.8" y="1232">24405</text><text x="1325.8" y="931">2815</text><text x="1325.8" y="645">23064</text><text x="1325.8" y="376">1276</text><text x="1325.8" y="294">6128</text><text x="1325.8" y="215">1042</text>
<text x="1376.4" y="1577">6806</text><text x="1376.4" y="1232">24405</text><text x="1376.4" y="931">2815</text><text x="1376.4" y="645">23064</text><text x="1376.4" y="376">1276</text><text x="1376.4" y="294">6128</text><text x="1376.4" y="215">1042</text>
<text x="1426.9" y="1565">7830</text><text x="1426.9" y="1209">24405</text><text x="1426.9" y="909">2815</text><text x="1426.9" y="623">23064</text><text x="1426.9" y="354">1276</text><text x="1426.9" y="283">5104</text><text x="1426.9" y="215">1042</text>
<text x="1477.5" y="1565">7830</text><text x="1477.5" y="1209">24405</text><text x="1477.5" y="909">2815</text><text x="1477.5" y="623">23064</text><text x="1477.5" y="354">1276</text><text x="1477.5" y="283">5104</text><text x="1477.5" y="215">1042</text>
<text x="1528.0" y="1565">7830</text><text x="1528.0" y="1209">24405</text><text x="1528.0" y="909">2815</text><text x="1528.0" y="623">23064</text><text x="1528.0" y="354">1276</text><text x="1528.0" y="283">6104</text><text x="1528.0" y="215">1042</text>
<text x="1578.6" y="1565">7830</text><text x="1578.6" y="1209">24405</text><text x="1578.6" y="909">2815</text><text x="1578.6" y="600">25111</text><text x="1578.6" y="308">1277</text><text x="1578.6" y="261">3056</text><text x="1578.6" y="215">1042</text>
<text x="1629.1" y="1560">8342</text><text x="1629.1" y="1187">25421</text><text x="1629.1" y="869">3323</text><text x="1629.1" y="549">25624</text><text x="1629.1" y="252">1276</text><text x="1629.1" y="232">496</text><text x="1629.1" y="212">1042</text>
<text x="1679.7" y="1559">8448</text><text x="1679.7" y="1184">25429</text><text x="1679.7" y="865">3428</text><text x="1679.7" y="544">25624</text><text x="1679.7" y="247">1276</text><text x="1679.7" y="228">0</text><text x="1679.7" y="219">1340</text>
<text x="1730.2" y="1558">8540</text><text x="1730.2" y="1181">25528</text><text x="1730.2" y="861">3426</text><text x="1730.2" y="539">25624</text><text x="1730.2" y="241">1276</text><text x="1730.2" y="215">1042</text>
<text x="1780.8" y="1558">8540</text><text x="1780.8" y="1181">25528</text><text x="1780.8" y="861">3426</text><text x="1780.8" y="539">25724</text><text x="1780.8" y="241">1276</text><text x="1780.8" y="215">1042</text>
<text x="1831.3" y="1558">8540</text><text x="1831.3" y="1181">25528</text><text x="1831.3" y="861">3426</text><text x="1831.3" y="539">25724</text><text x="1831.3" y="241">1276</text><text x="1831.3" y="215">1042</text>
<text x="1881.9" y="1558">8540</text><text x="1881.9" y="1181">25528</text><text x="1881.9" y="861">3426</text><text x="1881.9" y="539">25724</text><text x="1881.9" y="241">1276</text><text x="1881.9" y="215">1042</text>
<text x="1932.4" y="1559">8392</text><text x="1932.4" y="1164">27357</text><text x="1932.4" y="833">2659</text><text x="1932.4" y="526">25062</text><text x="1932.4" y="238">1024</text><text x="1932.4" y="215">1042</text>
<text x="1983.0" y="1559">8392</text><text x="1983.0" y="1164">27357</text><text x="1983.0" y="833">2659</text><text x="1983.0" y="526">25062</text><text x="1983.0" y="238">1024</text><text x="1983.0" y="215">1042</text>
<text x="2033.5" y="1559">8392</text><text x="2033.5" y="1164">27357</text><text x="2033.5" y="833">2659</text><text x="2033.5" y="526">25062</text><text x="2033.5" y="238">1024</text><text x="2033.5" y="215">1042</text>
<text x="2084.1" y="1559">8392</text><text x="2084.1" y="1164">27357</text><text x="2084.1" y="833">2659</text><text x="2084.1" y="526">25062</text><text x="2084.1" y="238">1024</text><text x="2084.1" y="215">1042</text>
<text x="2134.6" y="1559">8392</text><text x="2134.6" y="1164">27357</text><text x="2134.6" y="833">2659</text><text x="2134.6" y="526">25062</text><text x="2134.6" y="238">1024</text><text x="2134.6" y="215">1042</text>
<text x="2185.2" y="1559">8392</text><text x="2185.2" y="1164">27357</text><text x="2185.2" y="833">2659</text><text x="2185.2" y="526">25062</text><text x="2185.2" y="238">1024</text><text x="2185.2" y="215">1042</text>
<text x="2235.7" y="1559">8392</text><text x="2235.7" y="1164">27357</text><text x="2235.7" y="833">2659</text><text x="2235.7" y="526">25062</text><text x="2235.7" y="238">1024</text><text x="2235.7" y="215">1042</text>
<text x="2286.3" y="1559">8392</text><text x="2286.3" y="1164">27357</text><text x="2286.3" y="833">2659</text><text x="2286.3" y="526">25062</text><text x="2286.3" y="238">1024</text><text x="2286.3" y="215">1042</text>
<text x="2336.8" y="1559">8392</text><text x="2336.8" y="1164">27357</text><text x="2336.8" y="833">2659</text><text x="2336.8" y="526">25062</text><text x="2336.8" y="238">1024</text><text x="2336.8" y="215">1042</text>
<text x="2387.4" y="1559">8392</text><text x="2387.4" y="1164">27357</text><text x="2387.4" y="833">2659</text><text x="2387.4" y="526">25062</text><text x="2387.4" y="238">1024</text><text x="2387.4" y="215">1042</text>
<text x="2437.9" y="1559">8392</text><text x="2437.9" y="1164">27357</text><text x="2437.9" y="833">2659</text><text x="2437.9" y="526">25062</text><text x="2437.9" y="238">1024</text><text x="2437.9" y="215">1042</text>
<text x="2488.5" y="1559">8392</text><text x="2488.5" y="1164">27357</text><text x="2488.5" y="833">2659</text><text x="2488.5" y="526">25062</text><text x="2488.5" y="238">1024</text><text x="2488.5" y="215">1042</text>
<text x="2539.0" y="1559">8392</text><text x="2539.0" y="1164">27357</text><text x="2539.0" y="833">2659</text><text x="2539.0" y="526">25062</text><text x="2539.0" y="238">1024</text><text x="2539.0" y="215">1042</text>
<text x="2589.6" y="1559">8392</text><text x="2589.6" y="1164">27357</text><text x="2589.6" y="833">2659</text><text x="2589.6" y="526">25062</text><text x="2589.6" y="238">1024</text><text x="2589.6" y="215">1042</text>
<text x="2640.1" y="1559">8392</text><text x="2640.1" y="1164">27357</text><text x="2640.1" y="833">2659</text><text x="2640.1" y="526">25062</text><text x="2640.1" y="238">1024</text><text x="2640.1" y="215">1042</text>
<text x="2690.7" y="1559">8392</text><text x="2690.7" y="1164">27357</text><text x="2690.7" y="833">2659</text><text x="2690.7" y="526">25062</text><text x="2690.7" y="238">1024</text><text x="2690.7" y="215">1042</text>
<text x="2741.2" y="1559">8392</text><text x="2741.2" y="1164">27357</text><text x="2741.2" y="833">2659</text><text x="2741.2" y="526">25062</text><text x="2741.2" y="238">1024</text><text x="2741.2" y="215">1042</text>
<text x="2791.8" y="1559">8392</text><text x="2791.8" y="1164">27357</text><text x="2791.8" y="833">2659</text><text x="2791.8" y="526">25062</text><text x="2791.8" y="238">1024</text><text x="2791.8" y="215">1042</text>
<text x="2842.3" y="1559">8392</text><text x="2842.3" y="1164">27357</text><text x="2842.3" y="833">2659</text><text x="2842.3" y="526">25062</text><text x="2842.3" y="238">1024</text><text x="2842.3" y="215">1042</text>
<text x="2892.9" y="1559">8392</text><text x="2892.9" y="1164">27357</text><text x="2892.9" y="833">2659</text><text x="2892.9" y="526">25062</text><text x="2892.9" y="238">1024</text><text x="2892.9" y="215">1042</text>
<text x="2943.4" y="1559">8392</text><text x="2943.4" y="1164">27357</text><text x="2943.4" y="833">2659</text><text x="2943.4" y="526">25062</text><text x="2943.4" y="238">1024</text><text x="2943.4" y="215">1042</text>
<text x="2994.0" y="1559">8392</text><text x="2994.0" y="1164">27357</text><text x="2994.0" y="833">2659</text><text x="2994.0" y="526">25062</text><text x="2994.0" y="238">1024</text><text x="2994.0" y="215">1042</text>
<text x="3044.5" y="1559">8392</text><text x="3044.5" y="1164">27357</text><text x="3044.5" y="833">2659</text><text x="3044.5" y="526">25062</text><text x="3044.5" y="238">1024</text><text x="3044.5" y="215">1042</text>
<text x="3095.1" y="1559">8392</text><text x="3095.1" y="1164">27357</text><text x="3095.1" y="833">2659</text><text x="3095.1" y="526">25062</text><text x="3095.1" y="238">1024</text><text x="3095.1" y="215">1042</text>
<text x="3145.6" y="1559">8392</text><text x="3145.6" y="1164">27357</text><text x="3145.6" y="833">2659</text><text x="3145.6" y="526">25062</text><text x="3145.6" y="238">1024</text><text x="3145.6" y="215">1042</text>
<text x="3196.2" y="1559">8392</text><text x="3196.2" y="1164">27357</text><text x="3196.2" y="833">2659</text><text x="3196.2" y="526">25062</text><text x="3196.2" y="238">1024</text><text x="3196.2" y="215">1042</text>
<text x="3246.7" y="1559">8392</text><text x="3246.7" y="1164">27357</text><text x="3246.7" y="833">2659</text><text x="3246.7" y="526">25062</text><text x="3246.7" y="238">1024</text><text x="3246.7" y="215">1042</text>
</g>

<g class="y">
<text x="176" y="106">70000</text><text x="176" y="327">60000</text><text x="176" y="548">50000</text><text x="176" y="769">40000</text><text x="176" y="990">30000</text><text x="176" y="1211">20000</text><text x="176" y="1432">10000</text><text x="176" y="1653">0</text>
</g>
<text x="224" y="80" style="font-family:'Liberation Sans','Noto Sans CJK JP',sans-serif;font-size:52px;fill:#222">(個)</text>

<g class="x">
<text transform="translate(267.3,1727) rotate(-47)">09</text>
<text transform="translate(317.8,1727) rotate(-47)">01</text>
<text transform="translate(368.4,1727) rotate(-47)">05</text>
<text transform="translate(418.9,1727) rotate(-47)">09</text>
<text transform="translate(469.5,1727) rotate(-47)">01</text>
<text transform="translate(520.0,1727) rotate(-47)">05</text>
<text transform="translate(570.6,1727) rotate(-47)">09</text>
<text transform="translate(621.1,1727) rotate(-47)">01</text>
<text transform="translate(671.7,1727) rotate(-47)">05</text>
<text transform="translate(722.2,1727) rotate(-47)">09</text>
<text transform="translate(772.8,1727) rotate(-47)">01</text>
<text transform="translate(823.3,1727) rotate(-47)">08</text>
<text transform="translate(873.9,1727) rotate(-47)">01</text>
<text transform="translate(924.4,1727) rotate(-47)">05</text>
<text transform="translate(975.0,1727) rotate(-47)">09</text>
<text transform="translate(1025.5,1727) rotate(-47)">01</text>
<text transform="translate(1076.1,1727) rotate(-47)">05</text>
<text transform="translate(1126.6,1727) rotate(-47)">09</text>
<text transform="translate(1177.2,1727) rotate(-47)">01</text>
<text transform="translate(1227.7,1727) rotate(-47)">05</text>
<text transform="translate(1278.3,1727) rotate(-47)">09</text>
<text transform="translate(1328.8,1727) rotate(-47)">01</text>
<text transform="translate(1379.4,1727) rotate(-47)">05</text>
<text transform="translate(1429.9,1727) rotate(-47)">09</text>
<text transform="translate(1480.5,1727) rotate(-47)">12</text>
<text transform="translate(1531.0,1727) rotate(-47)">01</text>
<text transform="translate(1581.6,1727) rotate(-47)">06</text>
<text transform="translate(1632.1,1727) rotate(-47)">10</text>
<text transform="translate(1682.7,1727) rotate(-47)">02</text>
<text transform="translate(1733.2,1727) rotate(-47)">06</text>
<text transform="translate(1783.8,1727) rotate(-47)">07</text>
<text transform="translate(1834.3,1727) rotate(-47)">11</text>
<text transform="translate(1884.9,1727) rotate(-47)">01</text>
<text transform="translate(1935.4,1727) rotate(-47)">05</text>
<text transform="translate(1986.0,1727) rotate(-47)">09</text>
<text transform="translate(2036.5,1727) rotate(-47)">01</text>
<text transform="translate(2087.1,1727) rotate(-47)">05</text>
<text transform="translate(2137.6,1727) rotate(-47)">09</text>
<text transform="translate(2188.2,1727) rotate(-47)">01</text>
<text transform="translate(2238.7,1727) rotate(-47)">05</text>
<text transform="translate(2289.3,1727) rotate(-47)">09</text>
<text transform="translate(2339.8,1727) rotate(-47)">01</text>
<text transform="translate(2390.4,1727) rotate(-47)">05</text>
<text transform="translate(2440.9,1727) rotate(-47)">09</text>
<text transform="translate(2491.5,1727) rotate(-47)">01</text>
<text transform="translate(2542.0,1727) rotate(-47)">05</text>
<text transform="translate(2592.6,1727) rotate(-47)">09</text>
<text transform="translate(2643.1,1727) rotate(-47)">01</text>
<text transform="translate(2693.7,1727) rotate(-47)">05</text>
<text transform="translate(2744.2,1727) rotate(-47)">09</text>
<text transform="translate(2794.8,1727) rotate(-47)">01</text>
<text transform="translate(2845.3,1727) rotate(-47)">02</text>
<text transform="translate(2895.9,1727) rotate(-47)">03</text>
<text transform="translate(2946.4,1727) rotate(-47)">04</text>
<text transform="translate(2997.0,1727) rotate(-47)">05</text>
<text transform="translate(3047.5,1727) rotate(-47)">06</text>
<text transform="translate(3098.1,1727) rotate(-47)">07</text>
<text transform="translate(3148.6,1727) rotate(-47)">08</text>
<text transform="translate(3199.2,1727) rotate(-47)">09</text>
<text transform="translate(3249.7,1727) rotate(-47)">10</text>
</g>
<g class="x">
<text transform="translate(220.3,1815) rotate(-47)">2003.</text>
<text transform="translate(270.8,1815) rotate(-47)">2004.</text>
<text transform="translate(321.4,1815) rotate(-47)">2004.</text>
<text transform="translate(371.9,1815) rotate(-47)">2004.</text>
<text transform="translate(422.5,1815) rotate(-47)">2005.</text>
<text transform="translate(473.0,1815) rotate(-47)">2005.</text>
<text transform="translate(523.6,1815) rotate(-47)">2005.</text>
<text transform="translate(574.1,1815) rotate(-47)">2006.</text>
<text transform="translate(624.7,1815) rotate(-47)">2006.</text>
<text transform="translate(675.2,1815) rotate(-47)">2006.</text>
<text transform="translate(725.8,1815) rotate(-47)">2007.</text>
<text transform="translate(776.3,1815) rotate(-47)">2007.</text>
<text transform="translate(826.9,1815) rotate(-47)">2008.</text>
<text transform="translate(877.4,1815) rotate(-47)">2008.</text>
<text transform="translate(928.0,1815) rotate(-47)">2008.</text>
<text transform="translate(978.5,1815) rotate(-47)">2009.</text>
<text transform="translate(1029.1,1815) rotate(-47)">2009.</text>
<text transform="translate(1079.6,1815) rotate(-47)">2009.</text>
<text transform="translate(1130.2,1815) rotate(-47)">2010.</text>
<text transform="translate(1180.7,1815) rotate(-47)">2010.</text>
<text transform="translate(1231.3,1815) rotate(-47)">2010.</text>
<text transform="translate(1281.8,1815) rotate(-47)">2011.</text>
<text transform="translate(1332.4,1815) rotate(-47)">2011.</text>
<text transform="translate(1382.9,1815) rotate(-47)">2011.</text>
<text transform="translate(1433.5,1815) rotate(-47)">2011.</text>
<text transform="translate(1484.0,1815) rotate(-47)">2012.</text>
<text transform="translate(1534.6,1815) rotate(-47)">2012.</text>
<text transform="translate(1585.1,1815) rotate(-47)">2013.</text>
<text transform="translate(1635.7,1815) rotate(-47)">2015.</text>
<text transform="translate(1686.2,1815) rotate(-47)">2016.</text>
<text transform="translate(1736.8,1815) rotate(-47)">2018.</text>
<text transform="translate(1787.3,1815) rotate(-47)">2018.</text>
<text transform="translate(1837.9,1815) rotate(-47)">2019.</text>
<text transform="translate(1888.4,1815) rotate(-47)">2019.</text>
<text transform="translate(1939.0,1815) rotate(-47)">2019.</text>
<text transform="translate(1989.5,1815) rotate(-47)">2020.</text>
<text transform="translate(2040.1,1815) rotate(-47)">2020.</text>
<text transform="translate(2090.6,1815) rotate(-47)">2020.</text>
<text transform="translate(2141.2,1815) rotate(-47)">2021.</text>
<text transform="translate(2191.7,1815) rotate(-47)">2021.</text>
<text transform="translate(2242.3,1815) rotate(-47)">2021.</text>
<text transform="translate(2292.8,1815) rotate(-47)">2022.</text>
<text transform="translate(2343.4,1815) rotate(-47)">2022.</text>
<text transform="translate(2393.9,1815) rotate(-47)">2022.</text>
<text transform="translate(2444.5,1815) rotate(-47)">2023.</text>
<text transform="translate(2495.0,1815) rotate(-47)">2023.</text>
<text transform="translate(2545.6,1815) rotate(-47)">2023.</text>
<text transform="translate(2596.1,1815) rotate(-47)">2024.</text>
<text transform="translate(2646.7,1815) rotate(-47)">2024.</text>
<text transform="translate(2697.2,1815) rotate(-47)">2024.</text>
<text transform="translate(2747.8,1815) rotate(-47)">2025.</text>
<text transform="translate(2798.3,1815) rotate(-47)">2025.</text>
<text transform="translate(2848.9,1815) rotate(-47)">2025.</text>
<text transform="translate(2899.4,1815) rotate(-47)">2025.</text>
<text transform="translate(2950.0,1815) rotate(-47)">2025.</text>
<text transform="translate(3000.5,1815) rotate(-47)">2025.</text>
<text transform="translate(3051.1,1815) rotate(-47)">2025.</text>
<text transform="translate(3101.6,1815) rotate(-47)">2025.</text>
<text transform="translate(3152.2,1815) rotate(-47)">2025.</text>
<text transform="translate(3202.7,1815) rotate(-47)">2025.</text>
</g>

<rect x="697" y="1970" width="41" height="41" rx="4" class="a"/><text class="lg" x="754" y="2002">APNIC</text>
<rect x="967" y="1970" width="41" height="41" rx="4" class="b"/><text class="lg" x="1024" y="2002">ARIN</text>
<rect x="1207" y="1970" width="41" height="41" rx="4" class="c"/><text class="lg" x="1264" y="2002">LACNIC</text>
<rect x="1513" y="1970" width="41" height="41" rx="4" class="d"/><text class="lg" x="1570" y="2002">RIPE NCC</text>
<rect x="1873" y="1970" width="41" height="41" rx="4" class="e"/><text class="lg" x="1930" y="2002">AFRINIC</text>
<rect x="2204" y="1970" width="41" height="41" rx="4" class="f"/><text class="lg" x="2261" y="2018" style="font-size:52px">未割り振り分</text>
<rect x="2635" y="1970" width="41" height="41" rx="4" class="g"/><text class="lg" x="2692" y="2002">IANA<tspan style="font-size:40px" dy="-8">※4</tspan></text>
</svg>
</body></html>
